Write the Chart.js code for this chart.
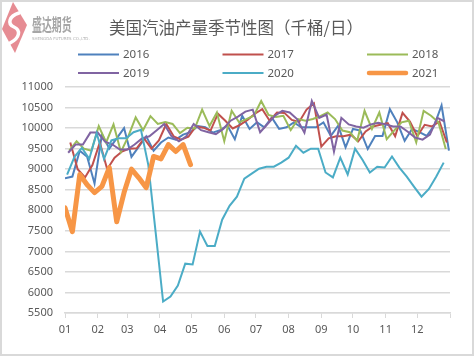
<!DOCTYPE html>
<html><head><meta charset="utf-8">
<script src="https://cdn.jsdelivr.net/npm/chart.js@4.4.0/dist/chart.umd.min.js"></script>
<style>html,body{margin:0;padding:0;background:#fff}#wrap{width:474px;height:356px;position:relative}canvas{display:block}</style>
</head><body><div id="wrap"><canvas id="c" width="474" height="356"></canvas></div>
<script>
const chartTitle = '美国汽油产量季节性图（千桶/日）';
const years = ['2016', '2017', '2018', '2019', '2020', '2021'];
const monthLabels = ['01','02','03','04','05','06','07','08','09','10','11','12'];
const monthStartDays = [0,31,59,90,120,151,181,212,243,273,304,334,365];
const yMin = 5500, yMax = 11000, yStep = 500;

const v2016 = [8780, 8820, 9450, 9300, 8650, 9850, 9500, 9750, 10000, 9300,
  9550, 9800, 9450, 9650, 9770, 9720, 9840, 9900, 10050, 10020,
  9890, 9950, 10060, 9730, 10300, 9980, 10140, 10020, 10260, 9980,
  10020, 10140, 10020, 10020, 10020, 10140, 9810, 10060, 9530, 9980,
  9940, 9490, 9810, 9810, 10460, 10140, 9690, 9980, 9900, 9810,
  10060, 10550, 9450];
const v2017 = [9650, 9000, 8800, 9100, 9650, 9000, 9280, 9430, 9500, 9510,
  9750, 9500, 9700, 10100, 9800, 9720, 9790, 10040, 10010, 9940,
  10350, 10180, 9990, 10080, 10200, 10350, 10460, 10180, 10380, 10370,
  10200, 10150, 10450, 10600, 9550, 9750, 9800, 9800, 9840, 9680,
  9920, 10040, 10080, 10120, 9800, 10370, 10160, 9800, 10080, 10040,
  10160, 9650];
const v2018 = [9450, 9680, 9500, 9450, 10050, 9650, 10090, 9420, 9800, 10260,
  9950, 10290, 10100, 10150, 10100, 9880, 10010, 9990, 10450, 10050,
  10380, 9680, 10420, 10140, 10220, 10300, 10660, 10320, 10270, 10300,
  9950, 10220, 10180, 10220, 10290, 10380, 10220, 9940, 9900, 9690,
  10420, 9980, 10380, 9730, 9940, 10140, 10180, 9650, 10420, 10300,
  10140, 9490];
const v2019 = [9400, 9600, 9600, 9890, 9890, 9670, 9600, 9480, 9480, 9600,
  9750, 9800, 9950, 10100, 9800, 9680, 9800, 10100, 9950, 9900,
  9850, 9980, 10180, 10280, 10400, 10450, 9900, 10100, 10300, 10420,
  10380, 10220, 9890, 10660, 10250, 10330, 9430, 10250, 10090, 10040,
  10010, 10090, 10130, 10090, 10040, 10040, 9910, 9770, 9720, 9840,
  10250, 10160];
const v2020 = [8870, 9300, 9520, 9250, 9880, 9250, 9700, 9750, 9750, 9900,
  9960, 9100, 7450, 5780, 5900, 6170, 6700, 6680, 7480, 7130,
  7130, 7770, 8110, 8330, 8770, 8890, 9010, 9060, 9060, 9160,
  9280, 9570, 9400, 9500, 9500, 8920, 8800, 9280, 8870, 9500,
  9230, 8920, 9060, 9040, 9310, 9040, 8820, 8570, 8330, 8520,
  8820, 9160];
const v2021 = [8060, 7480, 8870, 8620, 8430, 8580, 9040, 7720, 8430, 9000,
  8790, 8550, 9310, 9250, 9600, 9430, 9600, 9110];

const seriesValues = [v2016, v2017, v2018, v2019, v2020, v2021];
const colors = ['#4F81BD', '#C0504D', '#9BBB59', '#8064A2', '#4BACC6', '#F79646'];

// weekly data (week ending Friday) -> day of year
function firstFriday(y) { const d = new Date(+y, 0, 1).getDay(); return (5 - d + 7) % 7; }
function toPoints(year, vals) { const f = firstFriday(year); return vals.map((v, k) => ({ x: f + 7 * k, y: v })); }

const datasets = years.map((y, i) => ({
  label: y,
  data: toPoints(y, seriesValues[i]),
  borderColor: colors[i],
  backgroundColor: colors[i],
  borderWidth: i === 5 ? 5 : 2,
  borderJoinStyle: i === 5 ? 'round' : 'miter',
  borderCapStyle: i === 5 ? 'round' : 'butt',
  pointRadius: 0,
  tension: 0,
  fill: false,
  order: years.length - i
}));

const TXT = '#595959';
const numFont = '"Noto Sans", "DejaVu Sans", sans-serif';

const decoPlugin = {
  id: 'deco',
  beforeDraw(chart) {
    const ctx = chart.ctx;
    ctx.save();
    ctx.fillStyle = '#fff';
    ctx.fillRect(0, 0, chart.width, chart.height);
    ctx.strokeStyle = '#D9D9D9';
    ctx.lineWidth = 2;
    ctx.strokeRect(1, 1, chart.width - 2, chart.height - 2);
    // logo
    ctx.fillStyle = 'rgba(226,120,128,0.85)';
    ctx.beginPath();
    ctx.moveTo(13, 2); ctx.lineTo(27, 25); ctx.lineTo(15, 53); ctx.lineTo(2, 29); ctx.closePath();
    ctx.fill();
    ctx.strokeStyle = '#fff';
    ctx.lineWidth = 3.5;
    ctx.lineCap = 'round';
    ctx.beginPath();
    ctx.moveTo(19, 13);
    ctx.bezierCurveTo(9, 16, 7, 24, 14, 27);
    ctx.bezierCurveTo(21, 30, 20, 38, 10, 43);
    ctx.stroke();
    ctx.fillStyle = '#A6A6A6';
    ctx.font = 'bold 16px "Noto Sans CJK SC", sans-serif';
    ctx.textBaseline = 'middle';
    ctx.translate(32, 24);
    ctx.scale(0.62, 1.1);
    ctx.fillText('盛达期货', 0, 0);
    ctx.restore();
    ctx.save();
    ctx.fillStyle = '#B0B0B0';
    ctx.font = '4px "DejaVu Sans", sans-serif';
    ctx.textBaseline = 'middle';
    ctx.fillText('SHENGDA FUTURES CO.,LTD.', 32, 39);
    ctx.restore();
    // title
    ctx.save();
    ctx.fillStyle = TXT;
    ctx.font = '16.5px "Noto Sans CJK SC", sans-serif';
    ctx.textAlign = 'center';
    ctx.textBaseline = 'middle';
    ctx.fillText(chartTitle, 236, 28);
    ctx.restore();
  },
  afterDraw(chart) {
    const ctx = chart.ctx;
    chart.data.datasets.forEach((ds, i) => {
      const col = i % 3, row = Math.floor(i / 3);
      const x0 = 78 + col * 144.5, y0 = 54.5 + row * 18.5;
      ctx.save();
      ctx.strokeStyle = ds.borderColor;
      ctx.lineWidth = i === 5 ? 4.5 : 2;
      ctx.lineCap = i === 5 ? 'round' : 'butt';
      ctx.beginPath();
      ctx.moveTo(x0 + (i === 5 ? 2 : 0), y0);
      ctx.lineTo(x0 + (i === 5 ? 39 : 41), y0);
      ctx.stroke();
      ctx.fillStyle = TXT;
      ctx.font = '11.5px ' + numFont;
      ctx.textBaseline = 'middle';
      ctx.fillText(ds.label, x0 + 45, y0 + 0.5);
      ctx.restore();
    });
  }
};

new Chart(document.getElementById('c'), {
  type: 'line',
  data: { datasets },
  options: {
    responsive: false,
    animation: false,
    devicePixelRatio: 1,
    layout: { padding: { top: 87, left: 0, right: 24, bottom: 0 } },
    plugins: { legend: { display: false }, title: { display: false }, tooltip: { enabled: false } },
    scales: {
      x: {
        type: 'linear',
        min: monthStartDays[0],
        max: monthStartDays[monthStartDays.length - 1],
        afterBuildTicks(scale) { scale.ticks = monthStartDays.map(v => ({ value: v })); },
        afterFit(scale) { scale.height = 43; },
        ticks: {
          autoSkip: false, maxRotation: 0, minRotation: 0, padding: 5,
          color: TXT, font: { size: 11, family: numFont },
          callback: (v, idx) => monthLabels[idx] !== undefined ? monthLabels[idx] : ''
        },
        grid: { drawOnChartArea: false, drawTicks: true, tickLength: 5, color: '#D9D9D9' },
        border: { display: true, color: '#D9D9D9', width: 1.5 }
      },
      y: {
        min: yMin, max: yMax,
        afterFit(scale) { scale.width = 65; },
        ticks: {
          stepSize: yStep, padding: 12, color: TXT, font: { size: 11, family: numFont },
          callback: v => String(v)
        },
        grid: { color: '#D9D9D9', lineWidth: 1.5, drawTicks: false },
        border: { display: false }
      }
    }
  },
  plugins: [decoPlugin]
});
</script></body></html>
